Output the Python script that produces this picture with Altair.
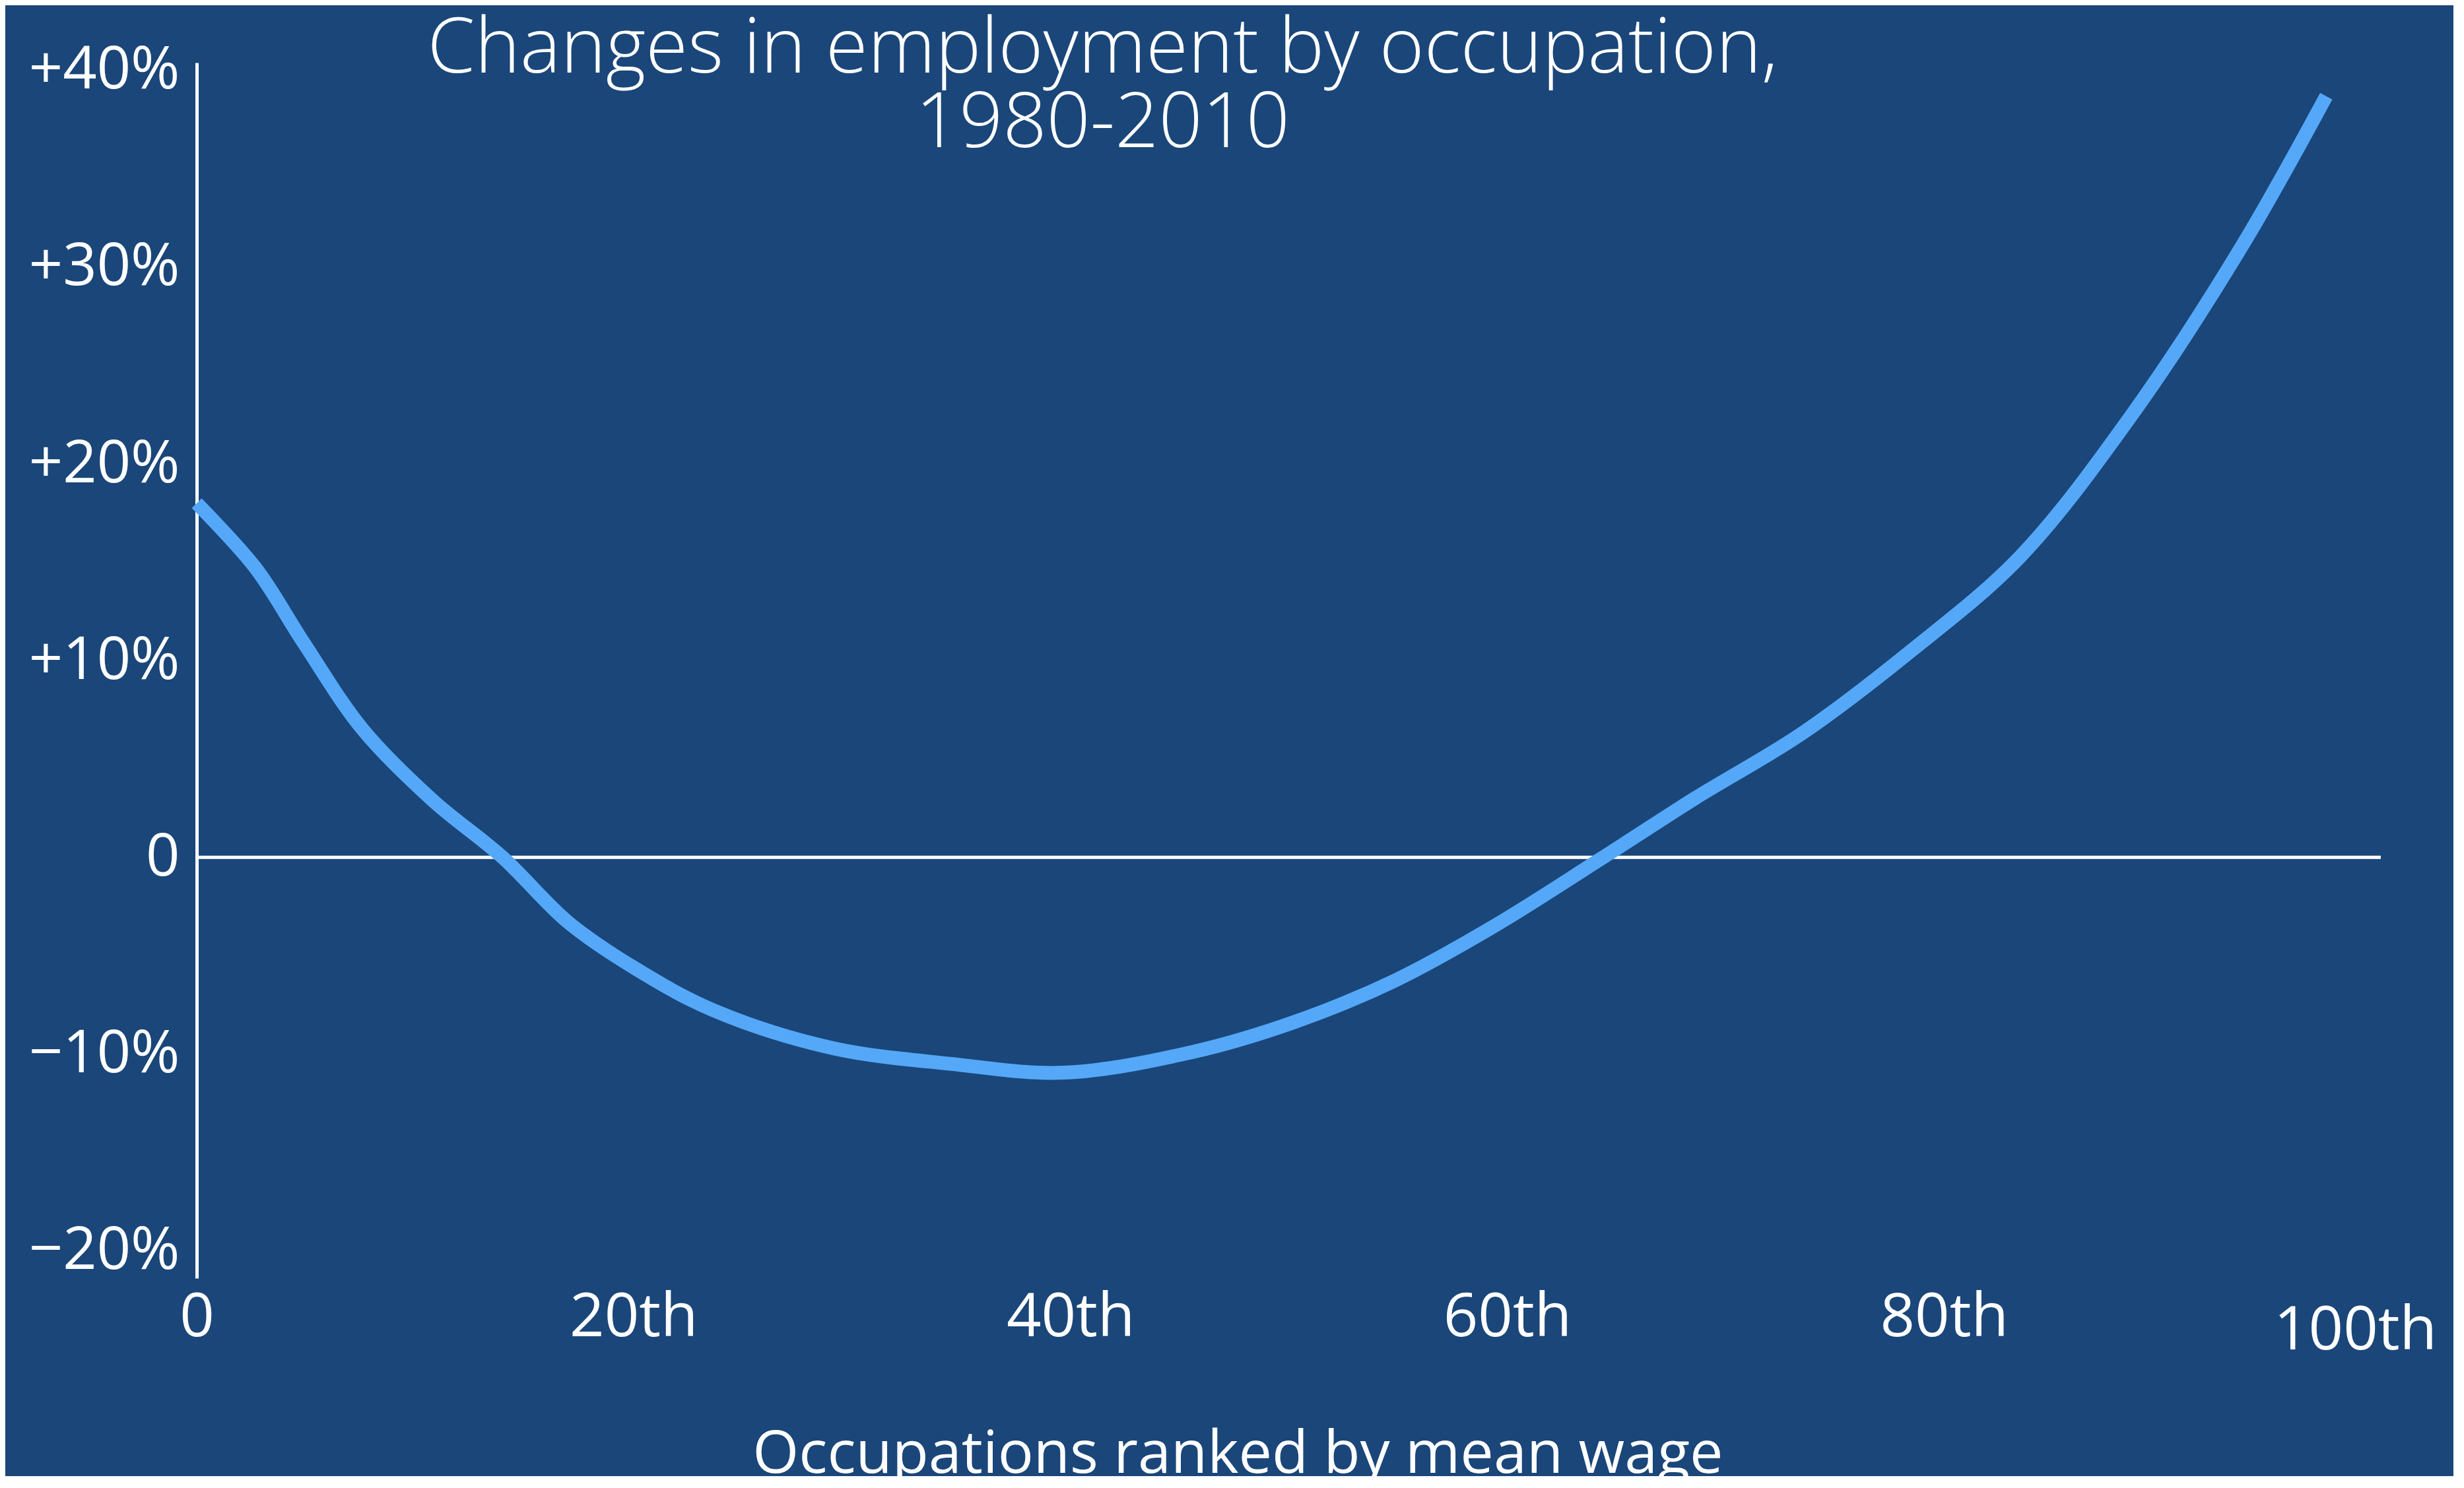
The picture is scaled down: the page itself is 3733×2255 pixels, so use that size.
import altair as alt
import pandas as pd

# Occupation percentile (ranked by mean wage) and change in employment (%)
percentile = [0, 2.7, 4.9, 7.6, 10.8, 14.0, 17.0, 20.0, 23.7, 29.1, 34.5, 39.7,
              45.6, 50.2, 54.8, 59.4, 64.4, 68.6, 73.5, 78.5, 83.5, 88.6, 93.6, 97.5]
change = [18.0, 14.7, 10.9, 6.5, 2.9, 0.0, -3.3, -5.6, -7.8, -9.7, -10.5, -10.95,
          -9.9, -8.4, -6.3, -3.5, 0.0, 3.0, 6.3, 10.5, 15.3, 22.5, 31.0, 38.7]

x_ticks = [0, 20, 40, 60, 80, 100]
x_labels = ["0", "20th", "40th", "60th", "80th", "100th"]
y_ticks = [-20, -10, 0, 10, 20, 30, 40]
y_labels = ["\u221220%", "\u221210%", "0", "+10%", "+20%", "+30%", "+40%"]

title_lines = ["Changes in employment by occupation,", "1980-2010"]
x_title = "Occupations ranked by mean wage"

BG = "#1a4679"
LINE = "#55a8f8"
FONT = "Open Sans"


def label_expr(ticks, labels):
    t = ",".join(str(v) for v in ticks)
    l = ",".join("'" + s + "'" for s in labels)
    return f"[{l}][indexof([{t}], datum.value)]"


df = pd.DataFrame({"p": percentile, "v": change})
zero = pd.DataFrame({"v": [0]})

x_scale = alt.Scale(domain=[0, 100], nice=False, zero=False)
y_scale = alt.Scale(domain=[-21.4, 40.4], nice=False, zero=False)

line = alt.Chart(df).mark_line(
    color=LINE, strokeWidth=21, interpolate="catmull-rom", strokeCap="butt"
).encode(
    x=alt.X("p:Q", scale=x_scale,
            axis=alt.Axis(values=x_ticks, labelExpr=label_expr(x_ticks, x_labels),
                          domain=False, ticks=False, grid=False,
                          labelFont=FONT, labelFontSize=92, labelColor="white",
                          labelBaseline="top", labelLimit=0,
                          labelPadding={"condition": {"test": "datum.value == 100", "value": 34}, "value": 14},
                          labelOffset={"condition": {"test": "datum.value == 100", "value": -39}, "value": 0},
                          labelFlush=False, labelOverlap=False,
                          title=x_title, titleFont=FONT, titleFontSize=90,
                          titleFontWeight="normal", titleColor="white",
                          titleX=1577, titleY=294, titleAlign="center",
                          titleBaseline="alphabetic", titleLimit=0)),
    y=alt.Y("v:Q", scale=y_scale,
            axis=alt.Axis(values=y_ticks, labelExpr=label_expr(y_ticks, y_labels),
                          domain=True, domainColor="white", domainWidth=5,
                          ticks=False, grid=False,
                          labelFont=FONT, labelFontSize=90, labelColor="white",
                          labelPadding=26, labelBaseline="middle", labelLimit=0,
                          labelFlush=False, labelOverlap=False,
                          title=None)),
)

rule = alt.Chart(zero).mark_rule(color="white", strokeWidth=5).encode(
    y=alt.Y("v:Q", scale=y_scale)
)

chart = alt.layer(rule, line).properties(
    width=3309,
    height=1842,
    autosize=alt.AutoSizeParams(type="none"),
    padding={"left": 290, "top": 87, "right": 110, "bottom": 300},
    background=BG,
    title=alt.TitleParams(
        text=title_lines, font=FONT, fontSize=116, fontWeight=300, color="white",
        anchor="middle", frame="group", dx=-282, dy=185, baseline="top",
        lineHeight=113, offset=0, limit=0,
    ),
).configure_view(stroke=None)

chart.save("out.html", embed_options={"renderer": "svg", "actions": False})
